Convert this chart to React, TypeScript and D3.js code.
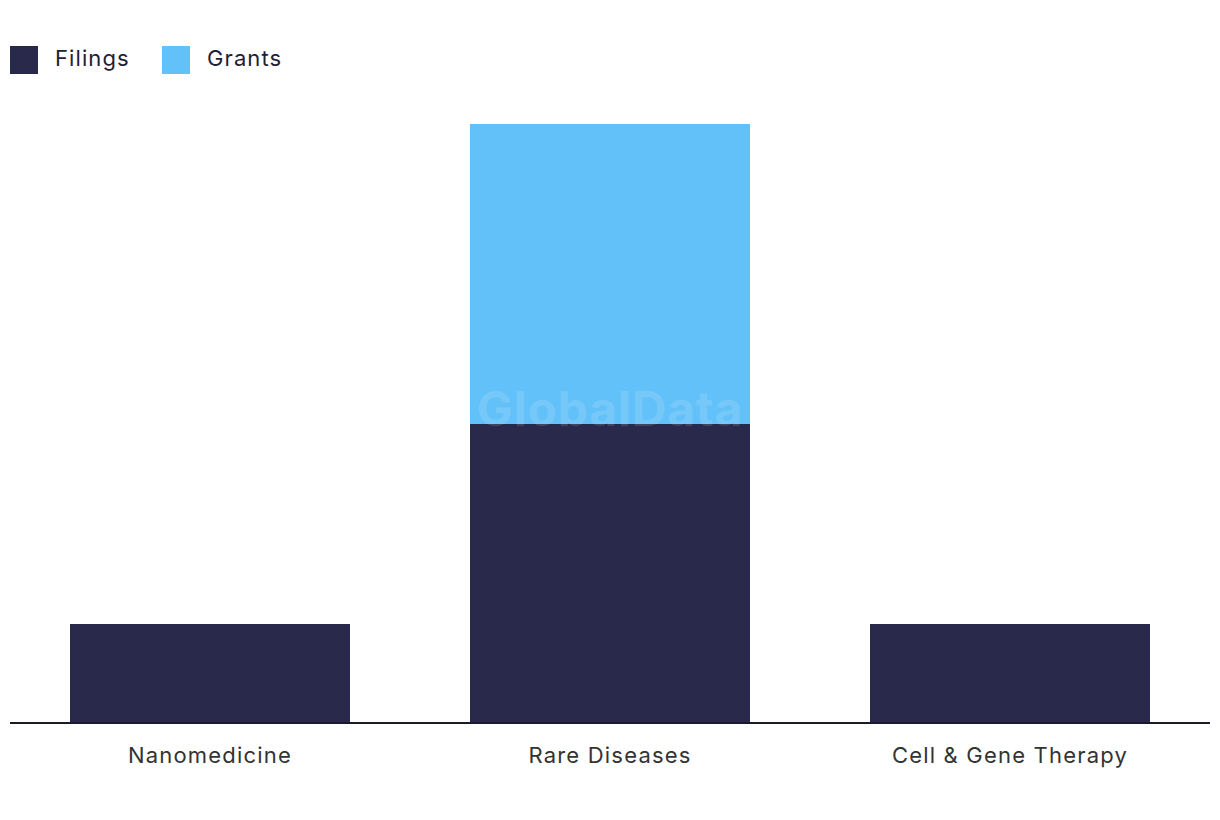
import React from "react";
import * as d3 from "d3";

const categories = ["Nanomedicine", "Rare Diseases", "Cell & Gene Therapy"];
const filings = [1, 3, 1];
const grants = [0, 3, 0];
const seriesNames = ["Filings", "Grants"];
const colors = ["#29294c", "#63c1f9"];

export default function App() {
  const width = 1220;
  const height = 820;
  const x = d3.scaleBand<string>().domain(categories).range([10, 1210]).paddingInner(0.3).paddingOuter(0.15);
  const y = d3.scaleLinear().domain([0, 6]).range([724, 124]);
  const rows = categories.map((c, i) => ({ cat: c, Filings: filings[i], Grants: grants[i] }));
  const stack = d3.stack<any>().keys(seriesNames)(rows);
  const font = "Inter, 'Open Sans', sans-serif";
  return (
    <svg width={width} height={height} style={{ position: "absolute", left: 0, top: 0, display: "block" }}>
      <rect width={width} height={height} fill="#ffffff" />
      {seriesNames.map((s, i) => {
        const lx = i === 0 ? 10 : 162;
        return (
          <g key={s}>
            <rect x={lx} y={46} width={28} height={28} fill={colors[i]} />
            <text x={lx + 45} y={66} fontFamily={font} fontSize={22} letterSpacing={1.1} fill="#1f2033">{s}</text>
          </g>
        );
      })}
      {stack.map((layer, si) => (
        <g key={layer.key} fill={colors[si]}>
          {layer.map((d, ci) =>
            d[1] - d[0] > 0 ? (
              <rect key={ci} x={x(categories[ci])} y={y(d[1])} width={x.bandwidth()} height={y(d[0]) - y(d[1])} />
            ) : null
          )}
        </g>
      ))}
      <text x={610} y={426} textAnchor="middle" fontFamily={font} fontWeight={700} fontSize={48} letterSpacing={0.8} fill="#ffffff" fillOpacity={0.14}>GlobalData</text>
      <line x1={10} x2={1210} y1={723} y2={723} stroke="#1a1a2e" strokeWidth={2} />
      {categories.map((c) => (
        <text key={c} x={(x(c) as number) + x.bandwidth() / 2} y={763} textAnchor="middle" fontFamily={font} fontSize={22} letterSpacing={1.2} fill="#333333">{c}</text>
      ))}
    </svg>
  );
}
